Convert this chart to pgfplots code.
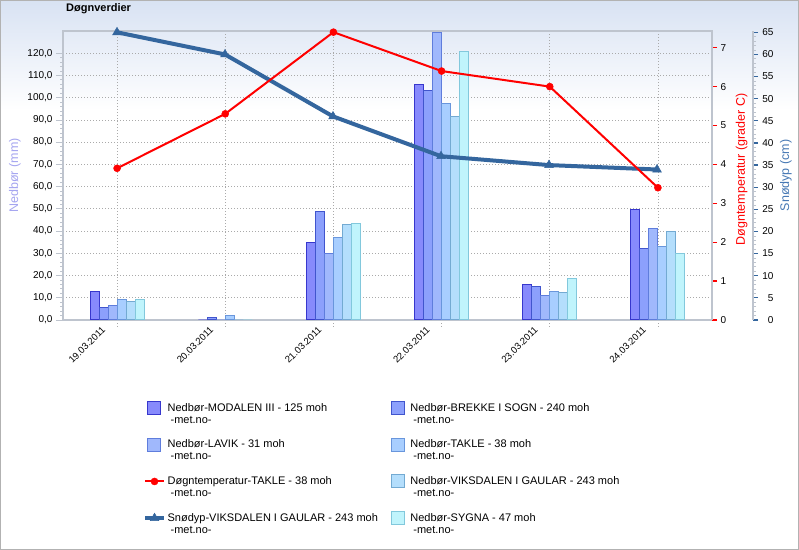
\documentclass[border=0pt]{standalone}
\usepackage{fontspec}
\setmainfont{Liberation Sans}
\usepackage{pgfplots}
\pgfplotsset{compat=1.18}
\definecolor{bgtop}{RGB}{216,226,243}
\definecolor{axgray}{RGB}{190,196,206}
\definecolor{gridgray}{RGB}{170,170,170}
\definecolor{b1f}{RGB}{135,138,252}\definecolor{b1d}{RGB}{55,55,205}
\definecolor{b2f}{RGB}{140,160,252}\definecolor{b2d}{RGB}{65,85,205}
\definecolor{b3f}{RGB}{160,184,252}\definecolor{b3d}{RGB}{95,125,220}
\definecolor{b4f}{RGB}{168,206,255}\definecolor{b4d}{RGB}{105,150,220}
\definecolor{b5f}{RGB}{180,222,252}\definecolor{b5d}{RGB}{115,170,210}
\definecolor{b6f}{RGB}{192,244,252}\definecolor{b6d}{RGB}{130,200,220}
\definecolor{tempred}{RGB}{255,0,0}
\definecolor{snow}{RGB}{52,102,158}
\definecolor{snowlab}{RGB}{70,120,180}
\definecolor{nedlab}{RGB}{165,165,240}
\pgfplotsset{
  /pgf/number format/assume math mode=true,
  base/.style={scale only axis, height=289bp, at={(63bp,230bp)}, anchor=south west,
    xmin=-0.5, enlargelimits=false, tick align=outside,
    tick label style={font=\fontsize{10bp}{12bp}\selectfont}},
  barleg/.style={legend image code/.code={\path[draw=none,fill=none] (0bp,-0.5bp) rectangle (19bp,12.5bp);
      \draw[##1] (2bp,-0.5bp) rectangle (15bp,12.5bp);}},
  lineleg/.style={legend image code/.code={\path[draw=none,fill=none] (0bp,-0.5bp) rectangle (19bp,12.5bp);
      \draw[mark repeat=2,mark phase=2,##1] plot coordinates {(0bp,6bp) (9.5bp,6bp) (19bp,6bp)};}},
}
\begin{document}
\begin{tikzpicture}[x=1bp,y=1bp]
\fill[white] (0,0) rectangle (799,550);
\shade[top color=bgtop, bottom color=white] (0,440) rectangle (799,550);
\draw[gray!60, line width=1bp] (0.5,0.5) rectangle (798.5,549.5);
\node[anchor=west, inner sep=0pt, font=\fontsize{11bp}{13bp}\selectfont\bfseries] at (66,541) {Døgnverdier};

% precipitation bars
\begin{axis}[base, width=649bp, xmax=5.5,
  ybar=0pt, bar width=9bp,
  ymin=0, ymax=130, ytick={0,10,...,120}, minor y tick num=4,
  xtick={0,...,5},
  xticklabels={19.03.2011,20.03.2011,21.03.2011,22.03.2011,23.03.2011,24.03.2011},
  xtick pos=bottom, ytick pos=left,
  xmajorgrids, ymajorgrids,
  grid style={gridgray, dash pattern=on 1bp off 2bp, line width=0.8bp},
  axis line style={axgray, line width=1.5bp},
  major tick length=4bp, minor tick length=3bp,
  major y tick style={axgray, line width=0.8bp},
  minor y tick style={axgray, line width=0.8bp},
  major x tick style={gridgray, dash pattern=on 1bp off 2bp, line width=0.8bp},
  major tick length=7bp,
  x tick label style={font=\fontsize{9.5bp}{11bp}\selectfont, xshift=-16bp, yshift=6bp, rotate=45, anchor=north east},
  y tick label style={/pgf/number format/.cd, fixed, fixed zerofill, precision=1, use comma},
  ylabel={Nedbør (mm)},
  every axis y label/.style={at={(axis description cs:-0.074,0.5)}, rotate=90, anchor=center, color=nedlab, font=\fontsize{12.5bp}{14bp}\selectfont},
  every axis plot/.append style={line width=1bp},
]
\addplot[fill=b1f, draw=b1d] coordinates {(0,13.0) (1,0) (2,35.0) (3,105.9) (4,16.0) (5,49.7)};
\addplot[fill=b2f, draw=b2d] coordinates {(0,5.4) (1,1.2) (2,48.8) (3,103.2) (4,15.1) (5,32.2)};
\addplot[fill=b3f, draw=b3d] coordinates {(0,6.6) (1,0) (2,30.0) (3,129.3) (4,11.1) (5,41.2)};
\addplot[fill=b4f, draw=b4d] coordinates {(0,9.3) (1,1.8) (2,37.2) (3,97.4) (4,12.9) (5,33.1)};
\addplot[fill=b5f, draw=b5d] coordinates {(0,8.4) (1,0) (2,43.0) (3,91.5) (4,12.4) (5,39.9)};
\addplot[fill=b6f, draw=b6d] coordinates {(0,9.3) (1,0) (2,43.5) (3,120.8) (4,18.7) (5,30.0)};
\end{axis}

% snow depth
\begin{axis}[base, width=690bp, xmax=5.8889,
  axis x line=none, axis y line*=right,
  ymin=0, ymax=65.3, ytick={0,5,...,65}, minor y tick num=4,
  y axis line style={axgray, line width=1.5bp},
  major tick length=5bp, minor tick length=3bp,
  major y tick style={snow, line width=1.2bp},
  minor y tick style={axgray, line width=0.8bp},
  y tick label style={anchor=east, xshift=19bp},
  ylabel={Snødyp (cm)},
  every axis y label/.style={at={(axis description cs:1.0478,0.5)}, rotate=90, anchor=center, color=snowlab, font=\fontsize{12.5bp}{14bp}\selectfont},
]
\addplot[snow, line width=4bp, mark=triangle*, mark size=5bp, mark options={line width=0.5bp}]
  coordinates {(0,65) (1,60) (2,46) (3,37) (4,35) (5,34)};
\end{axis}

% temperature
\begin{axis}[base, width=649bp, xmax=5.5,
  axis x line=none, axis y line*=right,
  ymin=0, ymax=7.43, ytick={0,...,7},
  y axis line style={axgray, line width=1.5bp},
  major tick length=5bp,
  major y tick style={tempred, line width=1.2bp},
  ylabel={Døgntemperatur (grader C)},
  every axis y label/.style={at={(axis description cs:1.0458,0.521)}, rotate=90, anchor=center, color=tempred, font=\fontsize{12.5bp}{14bp}\selectfont},
  legend columns=2,
  legend cell align=left,
  legend style={draw=none, fill=none, inner sep=0pt, outer sep=0pt,
    at={(axis description cs:0.1233,-0.2803)}, anchor=north west,
    font=\fontsize{11bp}{12bp}\selectfont,
    cells={align=left},
    nodes={inner sep=0pt},
    row sep=13bp,
    /tikz/every odd column/.append style={column sep=1.6bp},
    /tikz/every even column/.append style={column sep=11.8bp}},
]
\addplot[tempred, line width=2bp, mark=*, mark size=3.5bp, mark options={line width=0.5bp}, forget plot]
  coordinates {(0,3.9) (1,5.3) (2,7.4) (3,6.4) (4,6.0) (5,3.4)};
\addlegendimage{barleg, fill=b1f, draw=b1d, line width=1bp}
\addlegendentry{Nedbør-MODALEN III - 125 moh\\\hspace{3bp}-met.no-}
\addlegendimage{barleg, fill=b2f, draw=b2d, line width=1bp}
\addlegendentry{Nedbør-BREKKE I SOGN - 240 moh\\\hspace{3bp}-met.no-}
\addlegendimage{barleg, fill=b3f, draw=b3d, line width=1bp}
\addlegendentry{Nedbør-LAVIK - 31 moh\\\hspace{3bp}-met.no-}
\addlegendimage{barleg, fill=b4f, draw=b4d, line width=1bp}
\addlegendentry{Nedbør-TAKLE - 38 moh\\\hspace{3bp}-met.no-}
\addlegendimage{lineleg, tempred, line width=2bp, mark=*, mark size=3.5bp, mark options={line width=0.5bp}}
\addlegendentry{Døgntemperatur-TAKLE - 38 moh\\\hspace{3bp}-met.no-}
\addlegendimage{barleg, fill=b5f, draw=b5d, line width=1bp}
\addlegendentry{Nedbør-VIKSDALEN I GAULAR - 243 moh\\\hspace{3bp}-met.no-}
\addlegendimage{lineleg, snow, line width=4bp, mark=triangle*, mark size=5bp, mark options={line width=0.5bp}}
\addlegendentry{Snødyp-VIKSDALEN I GAULAR - 243 moh\\\hspace{3bp}-met.no-}
\addlegendimage{barleg, fill=b6f, draw=b6d, line width=1bp}
\addlegendentry{Nedbør-SYGNA - 47 moh\\\hspace{3bp}-met.no-}
\end{axis}
\end{tikzpicture}
\end{document}
